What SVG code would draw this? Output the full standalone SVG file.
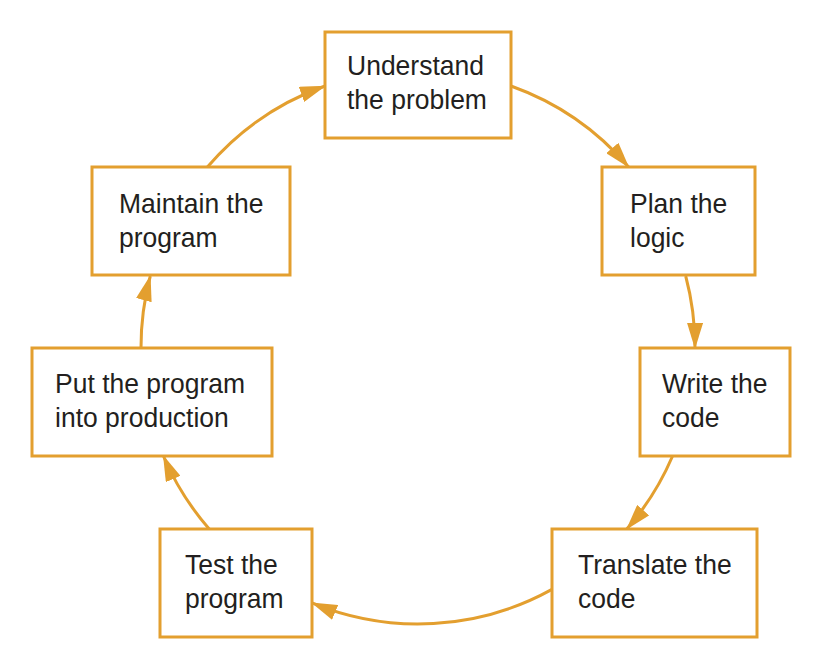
<svg xmlns="http://www.w3.org/2000/svg" width="820" height="664" viewBox="0 0 820 664">
<style>
.box{fill:#ffffff;stroke:#E39F2F;stroke-width:3}
.lbl{font-family:"Liberation Sans",Arial,sans-serif;font-size:28.5px;fill:#231F20}
.arc{fill:none;stroke:#E39F2F;stroke-width:3}
</style>
<defs>
<marker id="ah" viewBox="0 0 26 16" refX="25" refY="8" markerWidth="26" markerHeight="16" markerUnits="userSpaceOnUse" orient="auto">
<path d="M0,0 L26,8 L0,16 Z" fill="#E39F2F"/>
</marker>
</defs>
<rect width="820" height="664" fill="#ffffff"/>
<g id="connectors">
<path class="arc" marker-end="url(#ah)" d="M511,86 A277,277 0 0 1 628.6,167"/>
<path class="arc" marker-end="url(#ah)" d="M685.7,276 A277,277 0 0 1 695,348"/>
<path class="arc" marker-end="url(#ah)" d="M672.6,456 A277,277 0 0 1 626.8,529"/>
<path class="arc" marker-end="url(#ah)" d="M552,589.4 A277,277 0 0 1 312,602.9"/>
<path class="arc" marker-end="url(#ah)" d="M209.2,529 A277,277 0 0 1 163.4,456"/>
<path class="arc" marker-end="url(#ah)" d="M141,348 A277,277 0 0 1 150.3,276"/>
<path class="arc" marker-end="url(#ah)" d="M207.4,167 A277,277 0 0 1 325,86"/>
</g>
<g id="understand">
<rect class="box" x="325" y="32" width="186" height="106"/>
<text class="lbl" transform="matrix(0.93 0 0 1 347 75)">Understand</text>
<text class="lbl" transform="matrix(0.93 0 0 1 347 109)">the problem</text>
</g>
<g id="plan">
<rect class="box" x="602" y="167" width="153" height="108"/>
<text class="lbl" transform="matrix(0.93 0 0 1 630 213)">Plan the</text>
<text class="lbl" transform="matrix(0.93 0 0 1 630 247)">logic</text>
</g>
<g id="write">
<rect class="box" x="640" y="348" width="150" height="108"/>
<text class="lbl" transform="matrix(0.93 0 0 1 662 393)">Write the</text>
<text class="lbl" transform="matrix(0.93 0 0 1 662 427)">code</text>
</g>
<g id="translate">
<rect class="box" x="552" y="529" width="205" height="108"/>
<text class="lbl" transform="matrix(0.93 0 0 1 578 574)">Translate the</text>
<text class="lbl" transform="matrix(0.93 0 0 1 578 608)">code</text>
</g>
<g id="test">
<rect class="box" x="160" y="529" width="152" height="108"/>
<text class="lbl" transform="matrix(0.93 0 0 1 185 574)">Test the</text>
<text class="lbl" transform="matrix(0.93 0 0 1 185 608)">program</text>
</g>
<g id="production">
<rect class="box" x="32" y="348" width="240" height="108"/>
<text class="lbl" transform="matrix(0.93 0 0 1 55 393)">Put the program</text>
<text class="lbl" transform="matrix(0.93 0 0 1 55 427)">into production</text>
</g>
<g id="maintain">
<rect class="box" x="92" y="167" width="198" height="108"/>
<text class="lbl" transform="matrix(0.93 0 0 1 119 213)">Maintain the</text>
<text class="lbl" transform="matrix(0.93 0 0 1 119 247)">program</text>
</g>
</svg>
